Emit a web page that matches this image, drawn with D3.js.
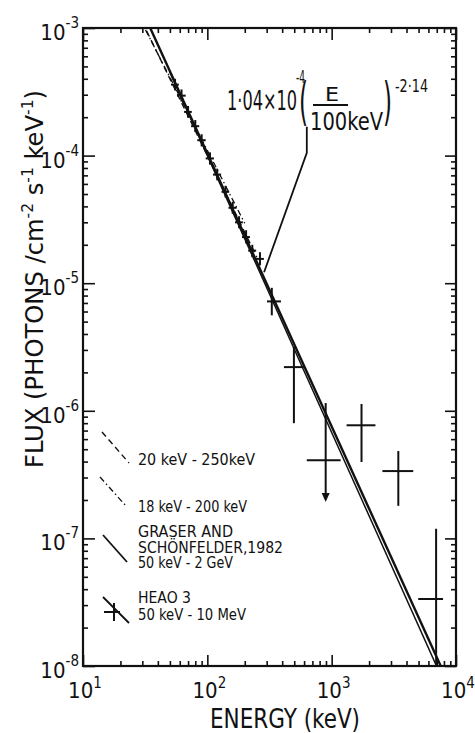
<!DOCTYPE html>
<html>
<head>
<meta charset="utf-8">
<script src="https://cdn.jsdelivr.net/npm/d3@7"></script>
<style>
  html, body { margin: 0; padding: 0; background: #fff; }
  svg text { font-family: "DejaVu Sans Condensed", "Liberation Sans Narrow", "Roboto Condensed", sans-serif; fill: #111; }
</style>
</head>
<body>
<svg id="chart" width="475" height="733"></svg>
<script>
// Axis decades
const energyDecades = [10, 100, 1000, 10000];
const energyExponents = ["1", "2", "3", "4"];
const fluxDecades = [1e-3, 1e-4, 1e-5, 1e-6, 1e-7, 1e-8];
const fluxExponents = ["-3", "-4", "-5", "-6", "-7", "-8"];

// Power-law fit: 1.04e-4 (E/100 keV)^-2.14
const fitNorm = 1.04e-4;
const fitIndex = 2.14;
// Other spectra: [norm at 100 keV, photon index, Emin, Emax]
const dashedSpec = [1.0e-4, 2.0, 20, 250];        // 20 keV - 250 keV
const dashDotSpec = [1.1e-4, 1.9, 18, 200];       // 18 keV - 200 keV
const graserSpec = [1.0e-4, 2.17, 50, 2e6];       // Graser & Schönfelder 1982, 50 keV - 2 GeV

// HEAO 3 measurements (keV, photons cm^-2 s^-1 keV^-1)
const heaoE   = [55, 62, 70, 80, 90, 105, 120, 140, 160, 180, 205, 230, 265, 330, 497, 895, 1738, 3436, 6918];
const heaoF   = [3.6e-4, 2.95e-4, 2.2e-4, 1.7e-4, 1.32e-4, 9.5e-5, 7.1e-5, 5.2e-5, 3.9e-5, 3.0e-5, 2.3e-5, 1.8e-5, 1.55e-5, 7.2e-6, 2.2e-6, 4.1e-7, 7.7e-7, 3.37e-7, 3.35e-8];
const heaoELo = [51, 57, 65, 74, 83, 97, 111, 130, 148, 167, 190, 213, 245, 302, 413, 631, 1318, 2559, 4966];
const heaoEHi = [59, 67, 75, 86, 97, 113, 129, 150, 172, 193, 220, 247, 285, 391, 597, 1180, 2249, 4529, 7870];
const heaoFLo = [3.25e-4, 2.65e-4, 1.98e-4, 1.53e-4, 1.18e-4, 8.5e-5, 6.4e-5, 4.7e-5, 3.5e-5, 2.7e-5, 2.05e-5, 1.6e-5, 1.38e-5, 5.6e-6, 8.0e-7, 1.93e-7, 3.97e-7, 1.8e-7, 1e-8];
const heaoFHi = [4.0e-4, 3.3e-4, 2.45e-4, 1.9e-4, 1.47e-4, 1.06e-4, 7.9e-5, 5.8e-5, 4.35e-5, 3.35e-5, 2.6e-5, 2.0e-5, 1.75e-5, 9.2e-6, 3.16e-6, 1.15e-6, 1.13e-6, 4.84e-7, 1.19e-7];
const heaoUpperLimit = [0,0,0,0,0,0,0,0,0,0,0,0,0,0,0,1,0,0,0];

// Leader from the formula to the fitted line (keV, flux)
const leaderE = [631, 631, 286];
const leaderF = [1.68e-4, 1.05e-4, 1.22e-5];

const svg = d3.select("#chart");
const pL = 83, pR = 456, pT = 28, pB = 666;

const x = d3.scaleLog().domain([10, 1e4]).range([pL, pR]);
const y = d3.scaleLog().domain([1e-3, 1e-8]).range([pT, pB]);

svg.append("clipPath").attr("id", "plotclip")
  .append("rect").attr("x", pL).attr("y", pT)
  .attr("width", pR - pL).attr("height", pB - pT);

const isDecade = v => Math.abs(Math.log10(v) - Math.round(Math.log10(v))) < 1e-6;
const xMinor = x.ticks().filter(v => !isDecade(v));
const yMinor = y.ticks().filter(v => !isDecade(v));

function styleAxis(g) {
  g.select(".domain").remove();
  g.selectAll(".tick line").attr("stroke", "#111").attr("stroke-width", 1.6);
  g.selectAll(".tick text").remove();
}

// Inward ticks on all four sides
svg.append("g").attr("transform", `translate(0,${pB})`)
  .call(d3.axisBottom(x).tickValues(xMinor).tickSize(-5)).call(styleAxis);
svg.append("g").attr("transform", `translate(0,${pB})`)
  .call(d3.axisBottom(x).tickValues(energyDecades).tickSize(-11)).call(styleAxis);
svg.append("g").attr("transform", `translate(0,${pT})`)
  .call(d3.axisTop(x).tickValues(xMinor).tickSize(-5)).call(styleAxis);
svg.append("g").attr("transform", `translate(0,${pT})`)
  .call(d3.axisTop(x).tickValues(energyDecades).tickSize(-12)).call(styleAxis);
svg.append("g").attr("transform", `translate(${pL},0)`)
  .call(d3.axisLeft(y).tickValues(yMinor).tickSize(-5)).call(styleAxis);
svg.append("g").attr("transform", `translate(${pL},0)`)
  .call(d3.axisLeft(y).tickValues(fluxDecades).tickSize(-12)).call(styleAxis);
svg.append("g").attr("transform", `translate(${pR},0)`)
  .call(d3.axisRight(y).tickValues(yMinor).tickSize(-5)).call(styleAxis);
svg.append("g").attr("transform", `translate(${pR},0)`)
  .call(d3.axisRight(y).tickValues(fluxDecades).tickSize(-11)).call(styleAxis);

// Frame
svg.append("rect").attr("x", pL).attr("y", pT)
  .attr("width", pR - pL).attr("height", pB - pT)
  .attr("fill", "none").attr("stroke", "#111").attr("stroke-width", 2.2);

// Tick labels "10^n"
energyDecades.forEach((v, i) => {
  const t = svg.append("text").attr("x", x(v) + 2).attr("y", pB + 32)
    .attr("text-anchor", "middle").attr("font-size", 22);
  t.append("tspan").text("10");
  t.append("tspan").attr("dy", -10).attr("font-size", 15).text(energyExponents[i]);
});
fluxDecades.forEach((v, i) => {
  const t = svg.append("text").attr("x", pL - 4).attr("y", y(v) + 12)
    .attr("text-anchor", "end").attr("font-size", 22);
  t.append("tspan").text("10");
  t.append("tspan").attr("dy", -12).attr("font-size", 15).text(fluxExponents[i]);
});

// Axis titles
svg.append("text").attr("x", 210).attr("y", 728)
  .attr("font-size", 26).attr("textLength", 150).attr("lengthAdjust", "spacingAndGlyphs")
  .text("ENERGY (keV)");

const yt = svg.append("text").attr("transform", "translate(43,468) rotate(-90)")
  .attr("font-size", 25).attr("textLength", 378).attr("lengthAdjust", "spacingAndGlyphs");
yt.append("tspan").text("FLUX (PHOTONS /cm");
yt.append("tspan").attr("dy", -10).attr("font-size", 16).text("-2");
yt.append("tspan").attr("dy", 10).text(" s");
yt.append("tspan").attr("dy", -10).attr("font-size", 16).text("-1");
yt.append("tspan").attr("dy", 10).text(" keV");
yt.append("tspan").attr("dy", -10).attr("font-size", 16).text("-1");
yt.append("tspan").attr("dy", 10).text(")");

// Spectral lines
const plot = svg.append("g").attr("clip-path", "url(#plotclip)");
function powerLaw(norm, index, e0, e1) {
  return [e0, e1].map(e => [x(e), y(norm * Math.pow(e / 100, -index))]);
}
const line = d3.line();

plot.append("path").attr("d", line(powerLaw(dashedSpec[0], dashedSpec[1], dashedSpec[2], dashedSpec[3])))
  .attr("fill", "none").attr("stroke", "#111").attr("stroke-width", 1.4).attr("stroke-dasharray", "6,4");
plot.append("path").attr("d", line(powerLaw(dashDotSpec[0], dashDotSpec[1], dashDotSpec[2], dashDotSpec[3])))
  .attr("fill", "none").attr("stroke", "#111").attr("stroke-width", 1.3).attr("stroke-dasharray", "6,3,1.5,3");
plot.append("path").attr("d", line(powerLaw(graserSpec[0], graserSpec[1], graserSpec[2], graserSpec[3])))
  .attr("fill", "none").attr("stroke", "#111").attr("stroke-width", 1.5);
plot.append("path").attr("d", line(powerLaw(fitNorm, fitIndex, 10, 1e4)))
  .attr("fill", "none").attr("stroke", "#111").attr("stroke-width", 2.4);

// HEAO 3 error crosses
const pts = heaoE.map((e, i) => ({e, f: heaoF[i], e0: heaoELo[i], e1: heaoEHi[i], f0: heaoFLo[i], f1: heaoFHi[i], ul: heaoUpperLimit[i]}));
const crosses = plot.append("g").attr("stroke", "#111").attr("stroke-width", 2);
crosses.selectAll("line.h").data(pts).join("line").attr("class", "h")
  .attr("x1", d => x(d.e0)).attr("x2", d => x(d.e1))
  .attr("y1", d => y(d.f)).attr("y2", d => y(d.f));
crosses.selectAll("line.v").data(pts).join("line").attr("class", "v")
  .attr("x1", d => x(d.e)).attr("x2", d => x(d.e))
  .attr("y1", d => y(d.f1)).attr("y2", d => y(d.f0) - (d.ul ? 6 : 0));
plot.selectAll("path.arrow").data(pts.filter(d => d.ul)).join("path").attr("class", "arrow")
  .attr("d", d => `M${x(d.e) - 4},${y(d.f0) - 9}L${x(d.e) + 4},${y(d.f0) - 9}L${x(d.e)},${y(d.f0)}Z`)
  .attr("fill", "#111");

// Formula annotation and its leader
svg.append("path")
  .attr("d", line(leaderE.map((e, i) => [x(e), y(leaderF[i])])))
  .attr("fill", "none").attr("stroke", "#111").attr("stroke-width", 1.8);

function fitText(tx, ty, size, width, str, anchor) {
  return svg.append("text").attr("x", tx).attr("y", ty).attr("font-size", size)
    .attr("text-anchor", anchor || "start")
    .attr("textLength", width).attr("lengthAdjust", "spacingAndGlyphs").text(str);
}
fitText(227, 110, 27, 70, "1·04×10");
fitText(296, 83, 17, 9, "-4");
fitText(299, 119, 52, 9, "(");
fitText(325, 101, 19, 14, "E");
svg.append("line").attr("x1", 313).attr("x2", 348).attr("y1", 105).attr("y2", 105)
  .attr("stroke", "#111").attr("stroke-width", 2);
fitText(310, 130, 25, 73, "100keV");
fitText(383, 119, 52, 9, ")");
fitText(395, 92, 17, 33, "-2·14");

// Legend
const lg = svg.append("g");
lg.append("line").attr("x1", 102).attr("y1", 432).attr("x2", 129).attr("y2", 463)
  .attr("stroke", "#111").attr("stroke-width", 1.4).attr("stroke-dasharray", "6,4");
lg.append("line").attr("x1", 100).attr("y1", 477).attr("x2", 126).attr("y2", 506)
  .attr("stroke", "#111").attr("stroke-width", 1.3).attr("stroke-dasharray", "6,3,1.5,3");
lg.append("line").attr("x1", 103).attr("y1", 535).attr("x2", 127).attr("y2", 562)
  .attr("stroke", "#111").attr("stroke-width", 1.8);
lg.append("line").attr("x1", 103).attr("y1", 597).attr("x2", 129).attr("y2", 623)
  .attr("stroke", "#111").attr("stroke-width", 1.8);
lg.append("line").attr("x1", 104).attr("y1", 612).attr("x2", 120).attr("y2", 612)
  .attr("stroke", "#111").attr("stroke-width", 2);
lg.append("line").attr("x1", 114).attr("y1", 603).attr("x2", 114).attr("y2", 621)
  .attr("stroke", "#111").attr("stroke-width", 2);

const legendLines = [
  ["20 keV - 250keV", 465, 117],
  ["18 keV - 200 keV", 512, 109],
  ["GRASER AND", 537, 95],
  ["SCHÖNFELDER,1982", 553, 145],
  ["50 keV - 2 GeV", 568, 95],
  ["HEAO 3", 603, 53],
  ["50 keV - 10 MeV", 620, 108]
];
lg.selectAll("text.leg").data(legendLines).join("text").attr("class", "leg")
  .attr("x", 138).attr("y", d => d[1]).attr("font-size", 15.5)
  .attr("textLength", d => d[2]).attr("lengthAdjust", "spacingAndGlyphs")
  .text(d => d[0]);
</script>
</body>
</html>
